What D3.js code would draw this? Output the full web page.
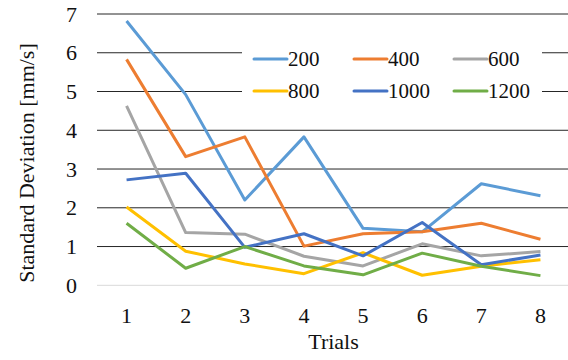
<!DOCTYPE html>
<html><head><meta charset="utf-8">
<script src="https://cdn.jsdelivr.net/npm/d3@7"></script>
<style>html,body{margin:0;padding:0;background:#fff;}svg{display:block;}</style>
</head><body>
<svg id="chart" width="568" height="360"></svg>
<script>
const trials = [1, 2, 3, 4, 5, 6, 7, 8];
const seriesNames = ["200", "400", "600", "800", "1000", "1200"];
const s200  = [6.82, 4.92, 2.2, 3.83, 1.47, 1.38, 2.62, 2.31];
const s400  = [5.83, 3.32, 3.83, 1.01, 1.33, 1.38, 1.6, 1.19];
const s600  = [4.63, 1.36, 1.32, 0.75, 0.5, 1.07, 0.76, 0.87];
const s800  = [2.02, 0.88, 0.55, 0.3, 0.84, 0.26, 0.49, 0.66];
const s1000 = [2.72, 2.89, 0.98, 1.33, 0.76, 1.62, 0.53, 0.78];
const s1200 = [1.6, 0.44, 1.0, 0.5, 0.27, 0.83, 0.49, 0.25];
const yTicks = [0, 1, 2, 3, 4, 5, 6, 7];
const colors = ["#5B9BD5", "#ED7D31", "#A5A5A5", "#FFC000", "#4472C4", "#70AD47"];
const allSeries = [s200, s400, s600, s800, s1000, s1200];

const svg = d3.select("#chart");
const font = "Liberation Serif";
const pLeft = 97, pRight = 570, pTop = 14, pBottom = 285.3;

const x = d3.scalePoint().domain(trials).range([pLeft, pRight]).padding(0.5);
const y = d3.scaleLinear().domain([0, 7]).range([pBottom, pTop]);

// gridlines
svg.append("g").selectAll("line").data(yTicks).join("line")
  .attr("x1", pLeft).attr("x2", pRight)
  .attr("y1", d => y(d)).attr("y2", d => y(d))
  .attr("stroke", d => d === 0 ? "#d9d9d9" : "#262626")
  .attr("stroke-width", 1);

// y tick labels
svg.append("g").selectAll("text").data(yTicks).join("text")
  .attr("x", 77).attr("y", d => y(d)).attr("dy", "0.35em")
  .attr("text-anchor", "end")
  .style("font-family", font).attr("font-size", 22).attr("fill", "#111")
  .text(d => d);

// x tick labels
svg.append("g").selectAll("text").data(trials).join("text")
  .attr("x", d => x(d)).attr("y", 323)
  .attr("text-anchor", "middle")
  .style("font-family", font).attr("font-size", 22).attr("fill", "#111")
  .text(d => d);

// axis titles
svg.append("text").attr("x", x(4) + x.step() / 2).attr("y", 349)
  .attr("text-anchor", "middle")
  .style("font-family", font).attr("font-size", 22).attr("fill", "#111")
  .text("Trials");
svg.append("text").attr("transform", "translate(34,163) rotate(-90)")
  .attr("text-anchor", "middle")
  .style("font-family", font).attr("font-size", 22).attr("fill", "#111")
  .text("Standard Deviation [mm/s]");

// legend background
svg.append("rect").attr("x", 242).attr("y", 22).attr("width", 300).attr("height", 96).attr("fill", "#fff");

// lines
const line = d3.line().x((d, i) => x(trials[i])).y(d => y(d));
svg.append("g").selectAll("path").data(allSeries).join("path")
  .attr("d", d => line(d))
  .attr("fill", "none")
  .attr("stroke", (d, i) => colors[i])
  .attr("stroke-width", 3)
  .attr("stroke-linejoin", "round");

// legend
const lg = svg.append("g").selectAll("g").data(seriesNames).join("g")
  .attr("transform", (d, i) => `translate(${254 + (i % 3) * 100},${59 + Math.floor(i / 3) * 32})`);
lg.append("line").attr("x1", 0).attr("x2", 33).attr("y1", 0).attr("y2", 0)
  .attr("stroke", (d, i) => colors[i]).attr("stroke-width", 3).attr("stroke-linecap", "round");
lg.append("text").attr("x", 34).attr("y", 0).attr("dy", "0.35em")
  .style("font-family", font).attr("font-size", 21).attr("fill", "#111")
  .text(d => d);
</script>
</body></html>
